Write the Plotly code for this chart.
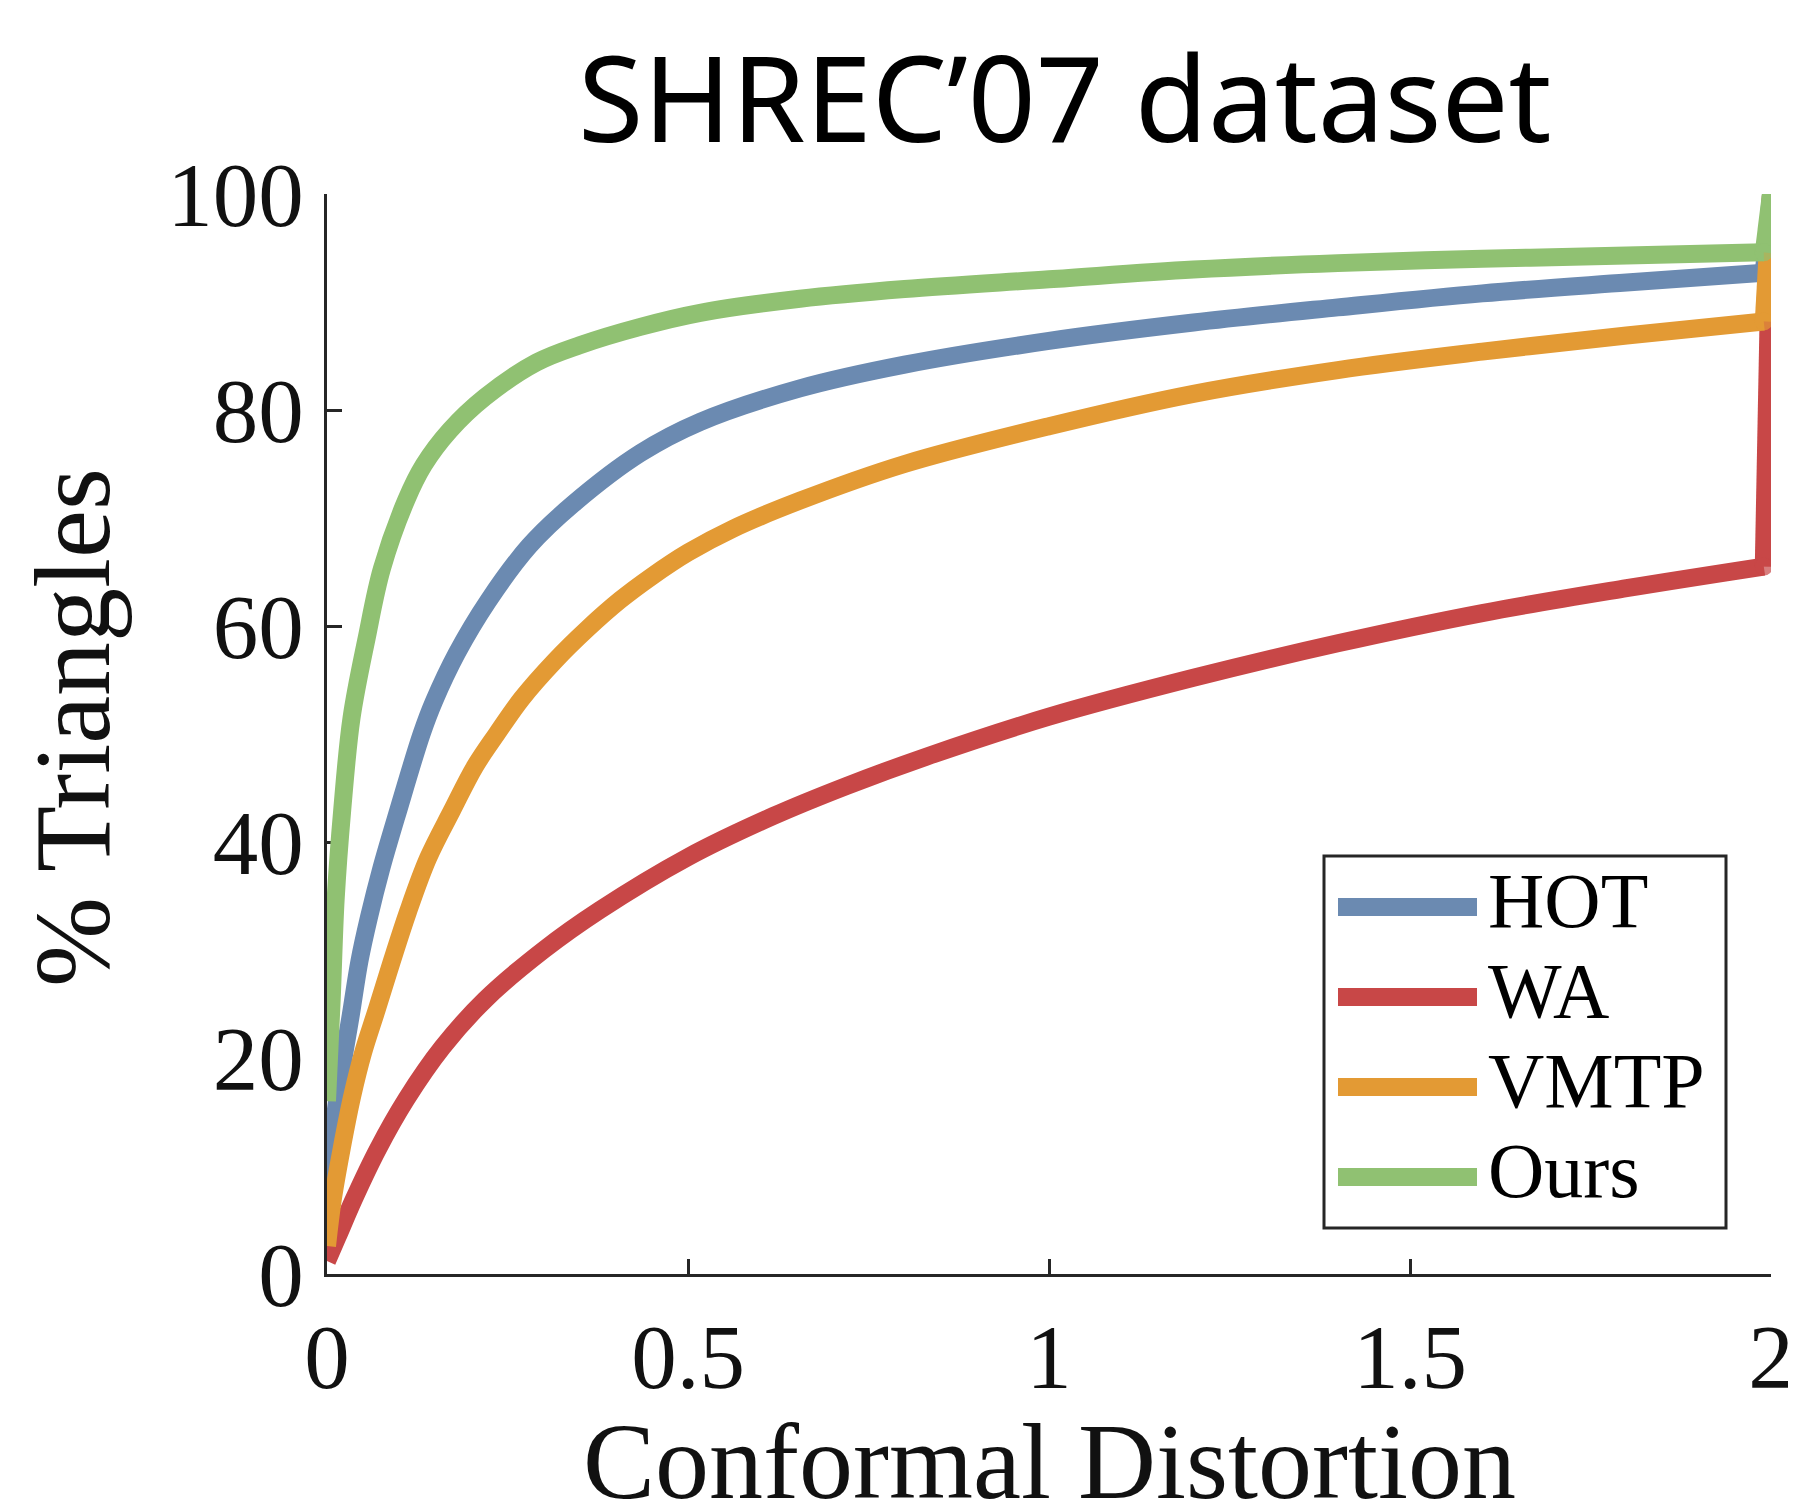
import plotly.graph_objects as go

# ---- data ----
hot_x = [0, 0.006, 0.012, 0.02, 0.033, 0.045, 0.058, 0.075, 0.099, 0.131, 0.148, 0.18, 0.223, 0.28, 0.341,
         0.434, 0.517, 0.655, 0.8, 1.0, 1.2, 1.4, 1.6, 1.8, 1.99, 2.0]
hot_y = [5.3, 10.3, 15.0, 18.8, 24.0, 29.0, 33.0, 37.5, 43.0, 50.0, 53.0, 57.5, 62.3, 67.4, 71.3,
         76.0, 78.9, 82.0, 84.2, 86.4, 88.1, 89.5, 90.8, 91.8, 92.7, 100]

wa_x = [0, 0.015, 0.037, 0.07, 0.11, 0.16, 0.219, 0.3, 0.378, 0.5, 0.618, 0.72, 0.83, 1.0, 1.2, 1.4, 1.6,
        1.8, 1.99, 2.0]
wa_y = [1.2, 3.5, 6.9, 11.5, 16.2, 21.0, 25.4, 30.0, 33.7, 38.6, 42.4, 45.2, 47.9, 51.6, 55.2, 58.4, 61.2,
        63.5, 65.5, 100]

vmtp_x = [0, 0.008, 0.02, 0.035, 0.05, 0.069, 0.09, 0.112, 0.14, 0.173, 0.205, 0.235, 0.27, 0.316, 0.36,
          0.406, 0.45, 0.5, 0.562, 0.655, 0.8, 1.0, 1.2, 1.4, 1.6, 1.8, 1.99, 2.0]
vmtp_y = [2.6, 6.9, 11.5, 16.5, 20.5, 24.5, 29.0, 33.5, 38.5, 42.9, 47.0, 50.0, 53.3, 56.8, 59.7,
          62.4, 64.6, 66.8, 69.0, 71.6, 75.0, 78.5, 81.5, 83.7, 85.4, 86.9, 88.2, 100]

ours_x = [0, 0.0065, 0.012, 0.021, 0.034, 0.055, 0.076, 0.11, 0.134, 0.17, 0.219, 0.29, 0.35, 0.434, 0.517,
          0.655, 0.8, 1.0, 1.2, 1.4, 1.6, 1.8, 1.99, 2.0]
ours_y = [16.0, 25.4, 34.7, 42.9, 51.5, 58.9, 65.3, 71.7, 74.9, 78.1, 81.2, 84.4, 86.0, 87.7, 89.0,
          90.3, 91.2, 92.1, 93.0, 93.6, 94.0, 94.3, 94.6, 100]

series_names = ["HOT", "WA", "VMTP", "Ours"]
series_colors = ["#6B8AB1", "#C84747", "#E39A34", "#90C172"]
series_x = [hot_x, wa_x, vmtp_x, ours_x]
series_y = [hot_y, wa_y, vmtp_y, ours_y]

x_ticks = [0, 0.5, 1, 1.5, 2]
x_tick_labels = ["0", "0.5", "1", "1.5", "2"]
y_ticks = [0, 20, 40, 60, 80, 100]
y_tick_labels = ["0", "20", "40", "60", "80", "100"]

title_text = "SHREC\u201907 dataset"
x_title = "Conformal Distortion"
y_title = "% Triangles"

# ---- figure ----
AX = "#262626"
SERIF = "Liberation Serif"
LW = 18
BODY = 8  # default page margin of the html body

fig = go.Figure()
for name, xs, ys, col in zip(series_names, series_x, series_y, series_colors):
    # smooth cumulative curve
    fig.add_trace(go.Scatter(x=xs[:-1], y=ys[:-1], mode="lines", name=name, showlegend=False,
                             line=dict(color=col, width=LW, shape="spline", smoothing=1.0)))
    # final jump to 100 %, with a round joint at the corner
    fig.add_trace(go.Scatter(x=xs[-2:], y=ys[-2:], mode="lines+markers", name=name, showlegend=False,
                             line=dict(color=col, width=LW),
                             marker=dict(color=col, size=[LW, 0], line=dict(width=0))))

axis_common = dict(ticks="inside", ticklen=15, tickwidth=3, tickcolor=AX,
                   showline=True, linewidth=3, linecolor=AX, mirror=False,
                   showgrid=False, zeroline=False, layer="below traces", automargin=False,
                   tickfont=dict(family=SERIF, size=91, color="#111111"))

fig.update_layout(
    width=1796 - BODY, height=1508 - BODY,
    margin=dict(l=327 - BODY, r=25, t=194 - BODY, b=234, autoexpand=False),
    plot_bgcolor="white", paper_bgcolor="white",
    showlegend=False,
    xaxis=dict(range=[0, 2], tickvals=x_ticks, ticktext=x_tick_labels,
               ticklabelstandoff=2, **axis_common),
    yaxis=dict(range=[0, 100], tickvals=y_ticks, ticktext=y_tick_labels,
               ticklabelstandoff=2, **axis_common),
)


# reference-pixel -> paper coordinates (plot area: x 327..1771, y 194..1274)
def px_x(p):
    return (p - 327) / 1444


def px_y(p):
    return (1274 - p) / 1080


annotations = [
    dict(text=title_text, x=px_x(1065), y=px_y(96), xref="paper", yref="paper",
         xanchor="center", yanchor="middle", showarrow=False,
         font=dict(family="Noto Sans", size=119, color="black")),
    dict(text=x_title, x=0.5, y=px_y(1461), xref="paper", yref="paper",
         xanchor="center", yanchor="middle", showarrow=False,
         font=dict(family=SERIF, size=108, color="#111111")),
    dict(text=y_title, x=px_x(72), y=px_y(728), xref="paper", yref="paper",
         xanchor="center", yanchor="middle", showarrow=False, textangle=-90,
         font=dict(family=SERIF, size=108, color="#111111")),
]

# ---- legend drawn by hand (box, swatches, labels) ----
shapes = [dict(type="rect", xref="paper", yref="paper",
               x0=px_x(1324), x1=px_x(1726), y0=px_y(1228), y1=px_y(856),
               line=dict(color=AX, width=3), fillcolor="white", layer="above")]
row_centers = [907, 997, 1087, 1177]
for name, col, rc in zip(series_names, series_colors, row_centers):
    shapes.append(dict(type="line", xref="paper", yref="paper",
                       x0=px_x(1338), x1=px_x(1477), y0=px_y(rc), y1=px_y(rc),
                       line=dict(color=col, width=LW), layer="above"))
    annotations.append(dict(text=name, x=px_x(1486), y=px_y(rc - 7), xref="paper", yref="paper",
                            xanchor="left", yanchor="middle", showarrow=False,
                            font=dict(family=SERIF, size=78, color="black")))

fig.update_layout(shapes=shapes, annotations=annotations)
fig.write_html("out.html")
